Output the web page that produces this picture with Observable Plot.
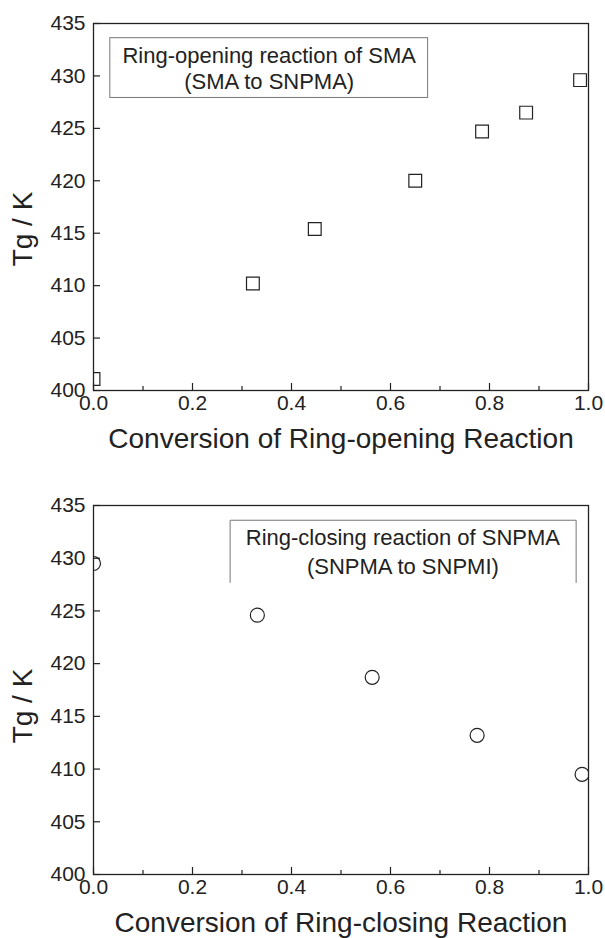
<!DOCTYPE html>
<html>
<head>
<meta charset="utf-8">
<script src="https://cdn.jsdelivr.net/npm/d3@7"></script>
<script src="https://cdn.jsdelivr.net/npm/@observablehq/plot@0.6"></script>
<style>
  html, body { margin: 0; padding: 0; background: #fff; }
  #chart svg { display: block; }
</style>
</head>
<body>
<div id="chart"></div>
<script>
// ---- data ----
const openConversion = [0, 0.322, 0.447, 0.650, 0.785, 0.874, 0.983];
const openTg         = [401.1, 410.2, 415.4, 420.0, 424.7, 426.5, 429.6];
const closeConversion = [0, 0.331, 0.563, 0.775, 0.987];
const closeTg         = [429.5, 424.6, 418.7, 413.2, 409.5];

const xMajorTicks = [0, 0.2, 0.4, 0.6, 0.8, 1.0];
const xMinorTicks = [0.1, 0.3, 0.5, 0.7, 0.9];
const yMajorTicks = [400, 405, 410, 415, 420, 425, 430, 435];

const topXTitle = "Conversion of Ring-opening Reaction";
const bottomXTitle = "Conversion of Ring-closing Reaction";
const yTitle = "Tg / K";
const topLegend = ["Ring-opening reaction of SMA", "(SMA to SNPMA)"];
const bottomLegend = ["Ring-closing reaction of SNPMA", "(SNPMA to SNPMI)"];

const ink = "#222";
const W = 605, ML = 93, MR = 17;
const innerW = W - ML - MR;

function panel({data, symbol, r, height, marginTop, marginBottom, xTitle, legendLines, legendBox, legendOpen, yTitleDy}) {
  const innerH = height - marginTop - marginBottom;
  const lb = legendBox;
  const marks = [
    Plot.frame({stroke: ink, strokeWidth: 1.3}),
    Plot.tickX(xMajorTicks, {x: d => d, insetTop: innerH - 7, stroke: ink, strokeWidth: 1.2}),
    Plot.tickX(xMinorTicks, {x: d => d, insetTop: innerH - 4, stroke: ink, strokeWidth: 1.2}),
    Plot.tickY(yMajorTicks, {y: d => d, insetRight: innerW - 7, stroke: ink, strokeWidth: 1.2}),
    Plot.axisX({ticks: xMajorTicks, tickSize: 0, tickPadding: 5, tickFormat: d3.format(".1f"), label: null, fill: ink}),
    Plot.axisY({ticks: yMajorTicks, tickSize: 0, tickPadding: 8, label: null, fill: ink}),
    Plot.text([xTitle], {frameAnchor: "bottom", lineAnchor: "middle", textAnchor: "middle", dy: 49, fontSize: 28, fill: ink}),
    Plot.text([yTitle], {frameAnchor: "left", lineAnchor: "middle", textAnchor: "middle", dx: -70, dy: yTitleDy, rotate: -90, fontSize: 28, fill: ink}),
    legendOpen
      ? Plot.line([
          {x: lb.x1, y: lb.y1}, {x: lb.x1, y: lb.y2}, {x: lb.x2, y: lb.y2}, {x: lb.x2, y: lb.y1}
        ], {x: "x", y: "y", stroke: "#777", strokeWidth: 1})
      : Plot.rect([lb], {x1: "x1", x2: "x2", y1: "y1", y2: "y2", fill: "none", stroke: "#777", strokeWidth: 1}),
    Plot.text(legendLines, {x: () => lb.cx, y: (d, i) => lb.lines[i], fontSize: 22, fill: ink}),
    Plot.dot(data, {x: "x", y: "y", symbol, r, stroke: ink, strokeWidth: 1.2, fill: "none", clip: "frame"})
  ];
  return Plot.plot({
    width: W, height, marginLeft: ML, marginRight: MR, marginTop, marginBottom,
    x: {domain: [0, 1]},
    y: {domain: [400, 435]},
    style: {fontSize: "21px", fontFamily: "'Liberation Sans', Arial, sans-serif", color: ink, background: "#fff"},
    marks
  });
}

const topData = openConversion.map((x, i) => ({x, y: openTg[i]}));
const bottomData = closeConversion.map((x, i) => ({x, y: closeTg[i]}));

const topPanel = panel({
  data: topData, symbol: "square", r: 7.2,
  height: 460, marginTop: 23, marginBottom: 70,
  xTitle: topXTitle, legendLines: topLegend,
  legendBox: {x1: 0.034, x2: 0.676, y1: 427.9, y2: 433.6, cx: 0.355, lines: [431.9, 429.4]},
  legendOpen: false, yTitleDy: 22
});
const bottomPanel = panel({
  data: bottomData, symbol: "circle", r: 7,
  height: 478, marginTop: 45, marginBottom: 64,
  xTitle: bottomXTitle, legendLines: bottomLegend,
  legendBox: {x1: 0.276, x2: 0.975, y1: 427.7, y2: 433.6, cx: 0.625, lines: [431.9, 429.2]},
  legendOpen: true, yTitleDy: 16
});
document.getElementById("chart").append(topPanel, bottomPanel);
</script>
</body>
</html>
